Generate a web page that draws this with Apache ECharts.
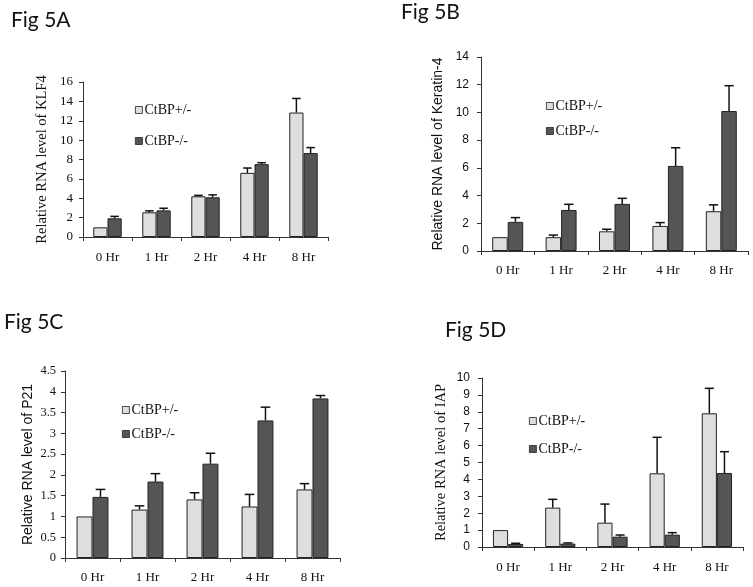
<!DOCTYPE html>
<html><head><meta charset="utf-8">
<script src="https://cdn.jsdelivr.net/npm/echarts@6/dist/echarts.min.js"></script>
<style>html,body{margin:0;padding:0;background:#fff}#c{width:753px;height:587px}</style>
</head><body><div id="c"></div><script>
// ---- data ----
const categories = ['0 Hr', '1 Hr', '2 Hr', '4 Hr', '8 Hr'];
const seriesNames = ['CtBP+/-', 'CtBP-/-'];
const panelTitles = ['Fig 5A', 'Fig 5B', 'Fig 5C', 'Fig 5D'];
const yTitles = ['Relative RNA level of KLF4', 'Relative RNA level of Keratin-4', 'Relative RNA level of P21', 'Relative RNA level of IAP'];

const klf4Het = [1.0, 2.55, 4.2, 6.62, 12.85];
const klf4HetErr = [0, 0.15, 0.1, 0.5, 1.45];
const klf4Ko = [1.93, 2.75, 4.1, 7.52, 8.66];
const klf4KoErr = [0.2, 0.22, 0.25, 0.15, 0.57];

const krt4Het = [1.0, 1.0, 1.42, 1.81, 2.87];
const krt4HetErr = [0, 0.15, 0.15, 0.24, 0.46];
const krt4Ko = [2.1, 2.96, 3.4, 6.14, 10.1];
const krt4KoErr = [0.31, 0.41, 0.4, 1.31, 1.83];

const p21Het = [1.0, 1.165, 1.41, 1.24, 1.65];
const p21HetErr = [0, 0.09, 0.16, 0.29, 0.14];
const p21Ko = [1.47, 1.84, 2.27, 3.31, 3.84];
const p21KoErr = [0.18, 0.19, 0.25, 0.32, 0.07];

const iapHet = [1.0, 2.33, 1.44, 4.36, 7.91];
const iapHetErr = [0, 0.49, 1.1, 2.13, 1.48];
const iapKo = [0.18, 0.2, 0.61, 0.73, 4.38];
const iapKoErr = [0.04, 0.04, 0.1, 0.12, 1.26];

const yMax = [16, 14, 4.5, 10];
const yStep = [2, 2, 0.5, 1];

const hetValues = [klf4Het, krt4Het, p21Het, iapHet];
const hetErrors = [klf4HetErr, krt4HetErr, p21HetErr, iapHetErr];
const koValues = [klf4Ko, krt4Ko, p21Ko, iapKo];
const koErrors = [klf4KoErr, krt4KoErr, p21KoErr, iapKoErr];

// ---- layout / style ----
const SERIF = '"Liberation Serif", "Times New Roman", serif';
const SANS = '"Liberation Sans", Arial, sans-serif';
const TITLEF = 'Lato, "Open Sans", sans-serif';
const panels = [
  {grid:{left:83, top:82, width:245, height:155}, title:{left:11, top:10},
   tickFont:SERIF, tickSize:13, tickMargin:10, nameFont:SERIF, nameSize:14.5, nameGap:33, xMargin:14,
   legend:{left:135, top:103, itemGap:17}},
  {grid:{left:481, top:57, width:267, height:194}, title:{left:401, top:2},
   tickFont:SANS, tickSize:12, tickMargin:12, nameFont:SANS, nameSize:14, nameGap:36, xMargin:13,
   legend:{left:546, top:99, itemGap:11}},
  {grid:{left:65, top:371, width:275, height:187}, title:{left:4, top:312},
   tickFont:SERIF, tickSize:12.5, tickMargin:9, nameFont:SANS, nameSize:14, nameGap:30, xMargin:13,
   legend:{left:122, top:403, itemGap:10}},
  {grid:{left:482, top:378, width:261, height:169}, title:{left:445, top:320},
   tickFont:SANS, tickSize:12, tickMargin:12, nameFont:SERIF, nameSize:14.5, nameGap:33, xMargin:14,
   legend:{left:529, top:414, itemGap:14}}
];
const GAP = 0.42;
const colors = ['#dedede', '#555555'];

function errRender(sIdx) {
  return function (params, api) {
    const cat = api.value(0), val = api.value(1), err = api.value(2);
    if (!err) return null;
    const band = api.size([1, 0])[0];
    const bw = band * (1 - GAP) / 2;
    const base = api.coord([cat, val]);
    const top = api.coord([cat, val + err]);
    const x = base[0] + (sIdx === 0 ? -bw / 2 : bw / 2);
    const hw = bw * 0.3;
    return {type: 'group', children: [
      {type: 'line', shape: {x1: x, y1: base[1], x2: x, y2: top[1]}, style: {stroke: '#111', lineWidth: 1.5}},
      {type: 'line', shape: {x1: x - hw, y1: top[1], x2: x + hw, y2: top[1]}, style: {stroke: '#111', lineWidth: 1.5}}
    ]};
  };
}

const grid = [], xAxis = [], yAxis = [], series = [], legend = [], title = [];
panels.forEach((p, i) => {
  grid.push(Object.assign({outerBoundsMode: 'none', containLabel: false}, p.grid));
  title.push({text: panelTitles[i], left: p.title.left, top: p.title.top, padding: 0,
    textStyle: {fontFamily: TITLEF, fontSize: 21, fontWeight: 'normal', color: '#111'}});
  xAxis.push({type: 'category', gridIndex: i, data: categories,
    axisLine: {lineStyle: {color: '#333', width: 1}},
    axisTick: {show: true, length: 4, lineStyle: {color: '#333'}},
    axisLabel: {fontFamily: SERIF, fontSize: 13, color: '#111', margin: p.xMargin}});
  yAxis.push({type: 'value', gridIndex: i, min: 0, max: yMax[i], interval: yStep[i],
    name: yTitles[i], nameLocation: 'middle', nameGap: p.nameGap,
    nameTextStyle: {fontFamily: p.nameFont, fontSize: p.nameSize, color: '#111'},
    axisLine: {show: true, lineStyle: {color: '#333', width: 1}},
    axisTick: {show: true, length: 4, lineStyle: {color: '#333'}},
    splitLine: {show: false},
    axisLabel: {fontFamily: p.tickFont, fontSize: p.tickSize, color: '#111', margin: p.tickMargin}});
  legend.push({data: seriesNames, orient: 'vertical', left: p.legend.left, top: p.legend.top,
    itemGap: p.legend.itemGap, itemWidth: 7, itemHeight: 7, icon: 'rect', padding: 0,
    selectedMode: false,
    itemStyle: {borderWidth: 0.8},
    textStyle: {fontFamily: SERIF, fontSize: 14, color: '#111', padding: [0, 0, 0, -3]}});
  const vals = [hetValues[i], koValues[i]];
  const errs = [hetErrors[i], koErrors[i]];
  vals.forEach((v, s) => {
    series.push({type: 'bar', name: seriesNames[s], xAxisIndex: i, yAxisIndex: i, data: v,
      barGap: '0%', barCategoryGap: (GAP * 100) + '%',
      itemStyle: {color: colors[s], borderColor: '#222', borderWidth: 1},
      animation: false});
  });
  vals.forEach((v, s) => {
    series.push({type: 'custom', name: 'err' + i + s, xAxisIndex: i, yAxisIndex: i,
      data: v.map((val, k) => [k, val, errs[s][k]]),
      encode: {x: 0, y: 1}, renderItem: errRender(s), z: 5, animation: false, silent: true});
  });
});

const chart = echarts.init(document.getElementById('c'), null, {renderer: 'canvas'});
chart.setOption({backgroundColor: '#fff', animation: false, title, grid, xAxis, yAxis, legend, series});
</script></body></html>
